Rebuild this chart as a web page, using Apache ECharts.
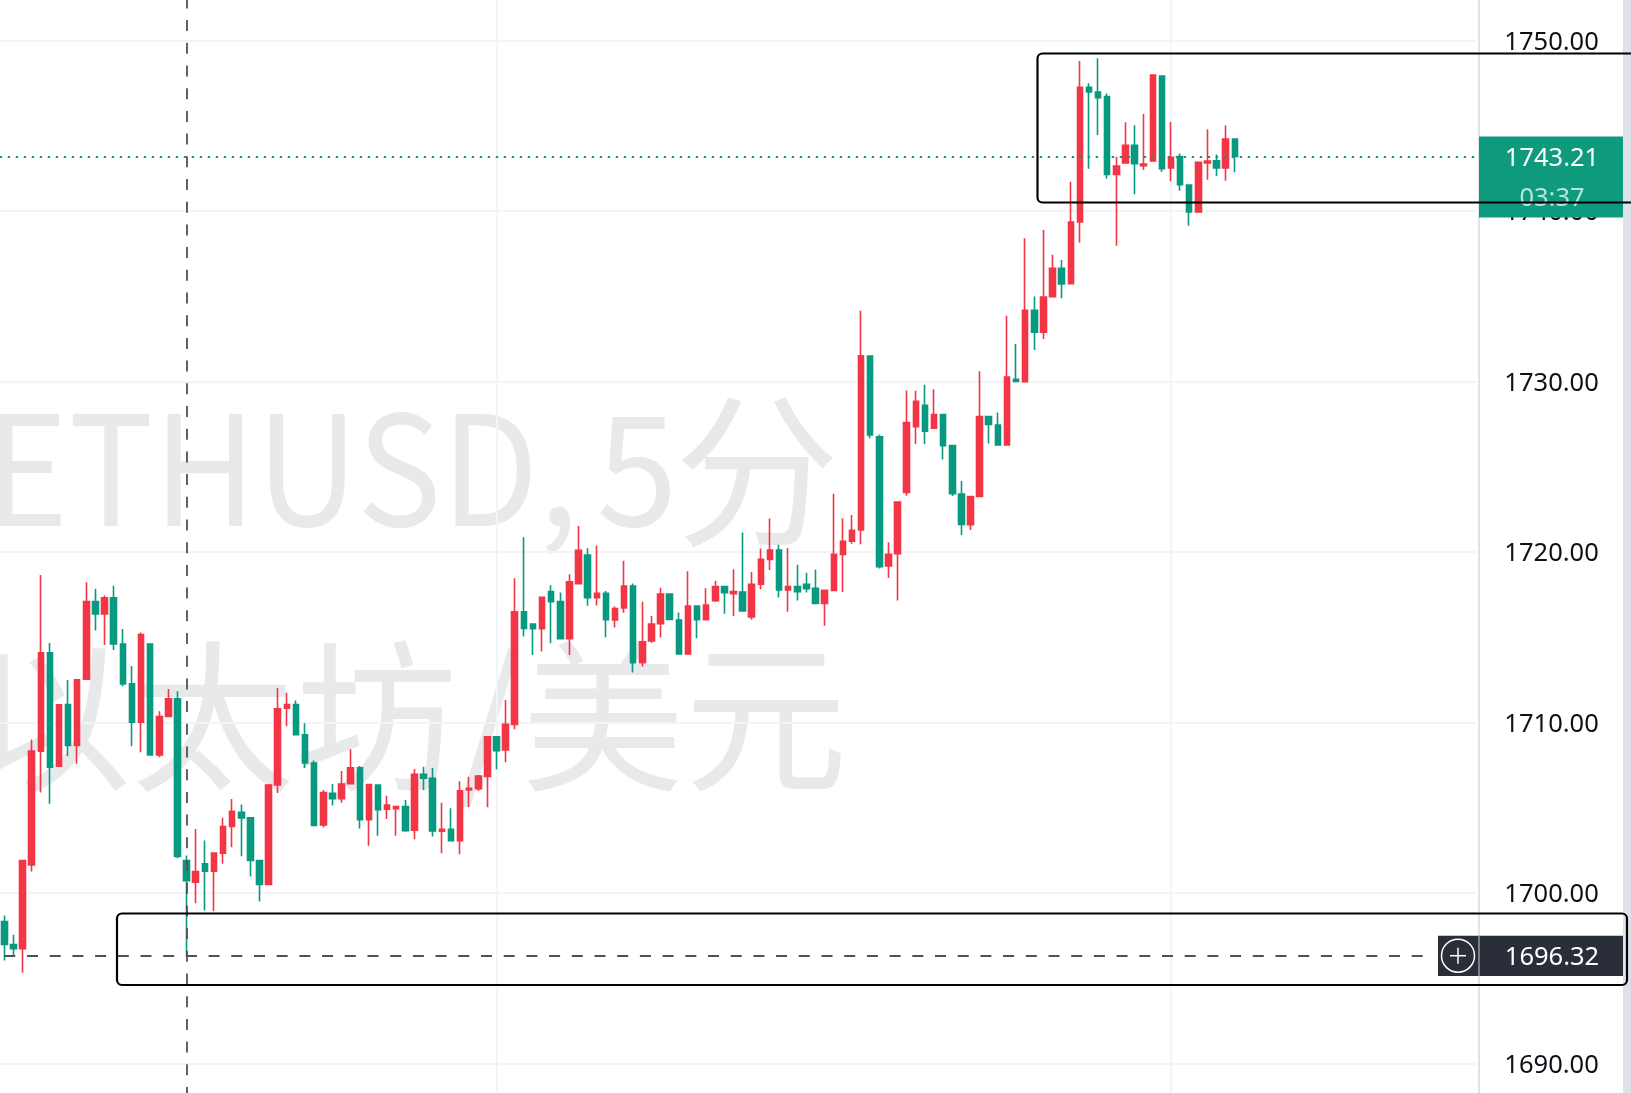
<!DOCTYPE html>
<html>
<head>
<meta charset="utf-8">
<title>ETHUSD 5分</title>
<style>
  html, body { margin: 0; padding: 0; background: #ffffff; }
  #chart { width: 1631px; height: 1093px; }
</style>
<script src="https://cdn.jsdelivr.net/npm/echarts@6/dist/echarts.min.js"></script>
</head>
<body>
<div id="chart"></div>
<script>
// ETH/USD five-minute bars, oldest first. Red bars closed up, green bars closed down.
const opens = [
  1698.34,1696.99,1696.74,1701.66,1708.33,1714.10,1707.45,1711.07,1708.66,1712.55,
  1717.11,1716.38,1717.32,1714.62,1712.28,1710.03,1714.62,1708.11,1710.36,1711.40,
  1701.92,1700.65,1701.72,1701.29,1702.35,1703.91,1704.75,1704.42,1701.92,1700.51,
  1706.35,1710.85,1711.07,1709.29,1707.64,1704.00,1705.86,1705.54,1706.42,1707.36,
  1704.31,1706.35,1704.92,1704.96,1705.08,1703.69,1706.97,1706.74,1703.63,1703.75,
  1703.08,1706.05,1706.13,1706.85,1709.18,1708.40,1709.90,1716.51,1715.79,1715.52,
  1717.69,1717.10,1714.93,1718.15,1719.84,1717.33,1717.59,1716.02,1716.73,1718.02,
  1713.52,1714.79,1715.81,1717.55,1716.02,1714.03,1716.84,1716.04,1717.16,1717.98,
  1717.57,1717.67,1716.20,1718.12,1719.58,1720.13,1717.78,1717.98,1718.12,1717.88,
  1717.00,1717.76,1719.87,1720.64,1721.30,1731.50,1726.77,1719.19,1719.91,1723.51,
  1727.36,1728.61,1727.28,1728.08,1726.25,1723.41,1721.61,1723.27,1727.95,1727.46,
  1726.29,1730.14,1730.00,1734.19,1732.90,1734.99,1736.65,1735.75,1739.37,1747.26,
  1746.99,1746.72,1742.16,1742.83,1743.86,1742.67,1742.94,1747.93,1742.53,1743.20,
  1741.54,1739.95,1742.83,1742.96,1742.53,1744.23
];
const closes = [
  1696.99,1696.74,1701.92,1708.33,1714.10,1707.39,1711.05,1708.66,1712.51,1717.11,
  1716.38,1717.32,1714.62,1712.28,1710.03,1715.17,1708.11,1710.36,1711.40,1702.15,
  1700.74,1701.27,1701.29,1702.35,1703.91,1704.81,1704.42,1701.92,1700.51,1706.35,
  1710.81,1711.07,1709.29,1707.64,1703.97,1705.90,1705.54,1706.40,1707.36,1704.31,
  1706.37,1704.90,1705.17,1705.08,1703.67,1706.97,1706.74,1703.65,1703.75,1703.08,
  1706.01,1706.15,1706.87,1709.18,1708.36,1709.90,1716.51,1715.53,1715.52,1717.35,
  1717.10,1714.93,1718.27,1720.11,1717.33,1717.59,1716.04,1716.69,1718.02,1713.52,
  1714.75,1715.79,1717.55,1716.06,1714.03,1716.84,1716.04,1716.90,1717.98,1717.63,
  1717.69,1716.55,1718.12,1719.58,1720.13,1717.78,1717.98,1717.69,1717.86,1717.00,
  1717.76,1719.87,1720.64,1721.28,1731.52,1726.87,1719.15,1719.87,1722.94,1727.61,
  1728.85,1727.09,1728.08,1726.25,1723.43,1721.63,1723.26,1727.95,1727.50,1726.29,
  1730.27,1730.02,1734.19,1732.90,1734.97,1736.65,1735.73,1739.37,1747.26,1746.99,
  1746.66,1742.16,1742.65,1743.86,1742.79,1742.77,1747.99,1742.49,1743.16,1741.56,
  1739.95,1742.87,1742.94,1742.53,1744.23,1743.21
];
const lows = [
  1696.05,1696.29,1695.33,1701.27,1705.90,1705.24,1707.45,1708.04,1707.59,1712.55,
  1715.41,1714.56,1714.27,1712.14,1708.62,1708.27,1708.11,1707.98,1710.36,1702.05,
  1696.32,1699.41,1698.98,1698.94,1701.72,1702.70,1702.17,1700.98,1699.51,1700.51,
  1705.88,1709.79,1709.29,1707.35,1703.97,1703.86,1705.15,1705.31,1706.42,1703.79,
  1702.79,1703.37,1704.35,1703.37,1703.61,1703.16,1706.05,1703.32,1702.34,1703.08,
  1702.28,1705.04,1705.99,1705.04,1707.27,1707.68,1709.61,1715.05,1713.97,1714.17,
  1714.66,1714.93,1713.97,1718.15,1716.86,1716.88,1715.01,1715.59,1716.45,1712.95,
  1713.29,1714.69,1714.99,1716.06,1714.03,1714.03,1714.95,1716.04,1717.08,1716.39,
  1716.26,1716.55,1716.04,1717.82,1718.96,1717.35,1716.51,1717.16,1717.63,1717.00,
  1715.69,1717.76,1717.67,1720.50,1720.46,1726.68,1719.05,1718.49,1717.16,1723.31,
  1726.34,1726.34,1727.28,1725.44,1723.29,1721.01,1721.30,1723.27,1726.38,1726.29,
  1726.29,1730.02,1730.00,1731.86,1732.50,1734.99,1734.89,1735.75,1738.17,1742.49,
  1744.47,1741.91,1737.98,1742.83,1740.99,1742.42,1742.94,1742.30,1741.75,1741.20,
  1739.15,1739.95,1741.85,1742.06,1741.79,1742.28
];
const highs = [
  1698.69,1697.56,1701.92,1709.01,1718.67,1714.68,1711.10,1712.51,1712.51,1718.24,
  1717.85,1717.46,1718.03,1715.50,1713.33,1715.29,1714.62,1710.67,1711.98,1711.85,
  1702.21,1703.77,1703.09,1702.35,1704.42,1705.53,1705.20,1704.42,1701.92,1706.41,
  1712.04,1711.75,1711.30,1709.97,1707.78,1706.05,1706.40,1707.17,1708.44,1707.46,
  1706.37,1706.35,1705.72,1705.08,1705.47,1707.28,1707.42,1707.34,1705.31,1704.98,
  1706.56,1706.83,1706.93,1709.18,1709.18,1711.33,1718.47,1720.87,1715.79,1717.35,
  1718.06,1717.63,1718.70,1721.54,1720.23,1720.40,1717.72,1716.81,1719.50,1718.17,
  1717.10,1716.26,1717.92,1717.55,1716.47,1718.88,1716.84,1717.88,1718.33,1717.98,
  1719.00,1721.15,1718.84,1720.21,1721.97,1720.44,1720.25,1719.27,1718.80,1718.98,
  1717.76,1723.43,1721.99,1722.18,1734.16,1731.50,1726.91,1720.58,1722.94,1729.49,
  1729.47,1729.82,1729.55,1728.08,1726.25,1724.17,1723.26,1730.61,1727.95,1728.20,
  1733.87,1732.21,1738.41,1734.99,1738.90,1737.45,1737.14,1741.73,1748.81,1747.50,
  1748.97,1746.91,1743.20,1745.21,1745.04,1745.70,1747.99,1747.93,1745.23,1743.39,
  1741.54,1742.87,1744.80,1743.32,1745.02,1744.23
];

const emptyBarsAhead = 26;
const categories = opens.concat(new Array(emptyBarsAhead).fill(0)).map((_, i) => String(i));

const lastPrice = 1743.21;
const lastPriceText = '1743.21';
const barCountdown = '03:37';
const crosshairPrice = 1696.32;
const crosshairPriceText = '1696.32';
const crosshairBar = '20';
const crosshairLineEndBar = '156';
const sessionBreakBars = ['54', '128'];
const watermarkSymbol = 'ETHUSD,';
const watermarkPeriod = '5';
const watermarkInterval = '分';
const watermarkName = '以太坊/美元';

const UP = '#F23645';
const DOWN = '#089981';
const GRID = '#f3f4f7';
const CROSSHAIR = '#4f5158';
const LABEL_FONT = '"Noto Sans", "Open Sans", sans-serif';
const WATERMARK_FONT = '"Noto Sans CJK SC", "Noto Sans", sans-serif';

const chart = echarts.init(document.getElementById('chart'), null, { renderer: 'canvas' });

const priceText = (text, y, color) => ({
  type: 'text', z: 110, silent: true,
  style: { x: 1552, y, text, fill: color, font: '25.5px ' + LABEL_FONT, textAlign: 'center', textVerticalAlign: 'middle' }
});

chart.setOption({
  animation: false,
  backgroundColor: '#ffffff',
  grid: { left: -0.26, top: -129.8, width: 1476.63, height: 1364, outerBoundsMode: 'none' },
  xAxis: {
    type: 'category',
    data: categories,
    axisLine: { show: false },
    axisTick: { show: false },
    axisLabel: { show: false },
    splitLine: { show: false }
  },
  yAxis: {
    type: 'value',
    position: 'right',
    min: 1680,
    max: 1760,
    interval: 10,
    axisLine: { show: false },
    axisTick: { show: false },
    axisLabel: {
      margin: 28,
      verticalAlign: 'top',
      lineHeight: 4,
      color: '#0f1116',
      fontFamily: LABEL_FONT,
      fontSize: 25.5,
      formatter: (v) => v.toFixed(2)
    },
    splitLine: { show: true, lineStyle: { color: GRID, width: 2 } }
  },
  series: [
    {
      // Session separators sit underneath the bars.
      type: 'line',
      data: [],
      silent: true,
      markLine: {
        z: 1,
        silent: true,
        animation: false,
        symbol: 'none',
        label: { show: false },
        lineStyle: { color: GRID, width: 2, type: 'solid' },
        data: sessionBreakBars.map((bar) => ({ xAxis: bar }))
      }
    },
    {
      type: 'candlestick',
      barWidth: 6,
      data: opens.map((o, i) => [o, closes[i], lows[i], highs[i]]),
      itemStyle: {
        color: UP, color0: DOWN,
        borderColor: UP, borderColor0: DOWN,
        borderWidth: 1.6
      },
      markLine: {
        z: 5,
        silent: true,
        animation: false,
        symbol: 'none',
        label: { show: false },
        data: [
          {
            yAxis: lastPrice,
            lineStyle: { color: DOWN, width: 1.8, type: [2.4, 5.6] }
          },
          [
            { xAxis: '0', yAxis: crosshairPrice, lineStyle: { color: CROSSHAIR, width: 1.8, type: [11, 11.7] } },
            { xAxis: crosshairLineEndBar, yAxis: crosshairPrice }
          ],
          {
            xAxis: crosshairBar,
            lineStyle: { color: CROSSHAIR, width: 1.8, type: [11, 11.7] }
          }
        ]
      }
    }
  ],
  graphic: {
    elements: [
      // Large pale symbol caption behind the bars.
      {
        type: 'text', z: -1, silent: true,
        x: -15, y: 468, scaleX: 0.97, scaleY: 1.05,
        style: { x: 0, y: 0, text: watermarkSymbol, fill: '#e8e9eb', font: '146px ' + WATERMARK_FONT, textAlign: 'left', textVerticalAlign: 'middle' }
      },
      {
        type: 'text', z: -1, silent: true,
        x: 637, y: 468, scaleY: 1.05,
        style: { x: 0, y: 0, text: watermarkPeriod, fill: '#e8e9eb', font: '146px ' + WATERMARK_FONT, textAlign: 'center', textVerticalAlign: 'middle' }
      },
      {
        type: 'text', z: -1, silent: true,
        style: { x: 757, y: 470, text: watermarkInterval, fill: '#e8e9eb', font: '165px ' + WATERMARK_FONT, textAlign: 'center', textVerticalAlign: 'middle' }
      },
      {
        type: 'text', z: -1, silent: true,
        style: { x: 408, y: 716, text: watermarkName, fill: '#e8e9eb', font: '163px ' + WATERMARK_FONT, textAlign: 'center', textVerticalAlign: 'middle' }
      },
      // Price scale edges.
      {
        type: 'line', z: 20, silent: true,
        shape: { x1: 1479, y1: 0, x2: 1479, y2: 1093 },
        style: { stroke: '#e0e3eb', lineWidth: 2 }
      },
      {
        type: 'rect', z: 20, silent: true,
        shape: { x: 1623, y: 0, width: 8, height: 1093 },
        style: { fill: '#dfe1ea' }
      },
      // Last price tag with bar countdown.
      {
        type: 'rect', z: 100, silent: true,
        shape: { x: 1479, y: 136.5, width: 144, height: 81 },
        style: { fill: '#0e9a7d' }
      },
      priceText(lastPriceText, 159, '#ffffff'),
      priceText(barCountdown, 199, 'rgba(255,255,255,0.72)'),
      // Crosshair price tag with the add button.
      {
        type: 'rect', z: 100, silent: true,
        shape: { x: 1438, y: 935.7, width: 185, height: 40.3 },
        style: { fill: '#2a2e39' }
      },
      {
        type: 'line', z: 105, silent: true,
        shape: { x1: 1479, y1: 935.7, x2: 1479, y2: 976 },
        style: { stroke: '#c9ccd4', lineWidth: 1 }
      },
      {
        type: 'circle', z: 110, silent: true,
        shape: { cx: 1458, cy: 955.7, r: 16.5 },
        style: { fill: 'none', stroke: '#ffffff', lineWidth: 1.5 }
      },
      {
        type: 'line', z: 110, silent: true,
        shape: { x1: 1450, y1: 955.7, x2: 1466, y2: 955.7 },
        style: { stroke: '#ffffff', lineWidth: 1.5 }
      },
      {
        type: 'line', z: 110, silent: true,
        shape: { x1: 1458, y1: 947.7, x2: 1458, y2: 963.7 },
        style: { stroke: '#ffffff', lineWidth: 1.5 }
      },
      priceText(crosshairPriceText, 958, '#ffffff'),
      // Hand-drawn highlight boxes.
      {
        type: 'rect', z: 120, silent: true,
        shape: { x: 1037.5, y: 53.5, width: 700, height: 149, r: 5 },
        style: { fill: 'none', stroke: '#000000', lineWidth: 2.2 }
      },
      {
        type: 'rect', z: 120, silent: true,
        shape: { x: 117, y: 913.5, width: 1510, height: 71.5, r: 5 },
        style: { fill: 'none', stroke: '#000000', lineWidth: 2.2 }
      }
    ]
  }
});
</script>
</body>
</html>
